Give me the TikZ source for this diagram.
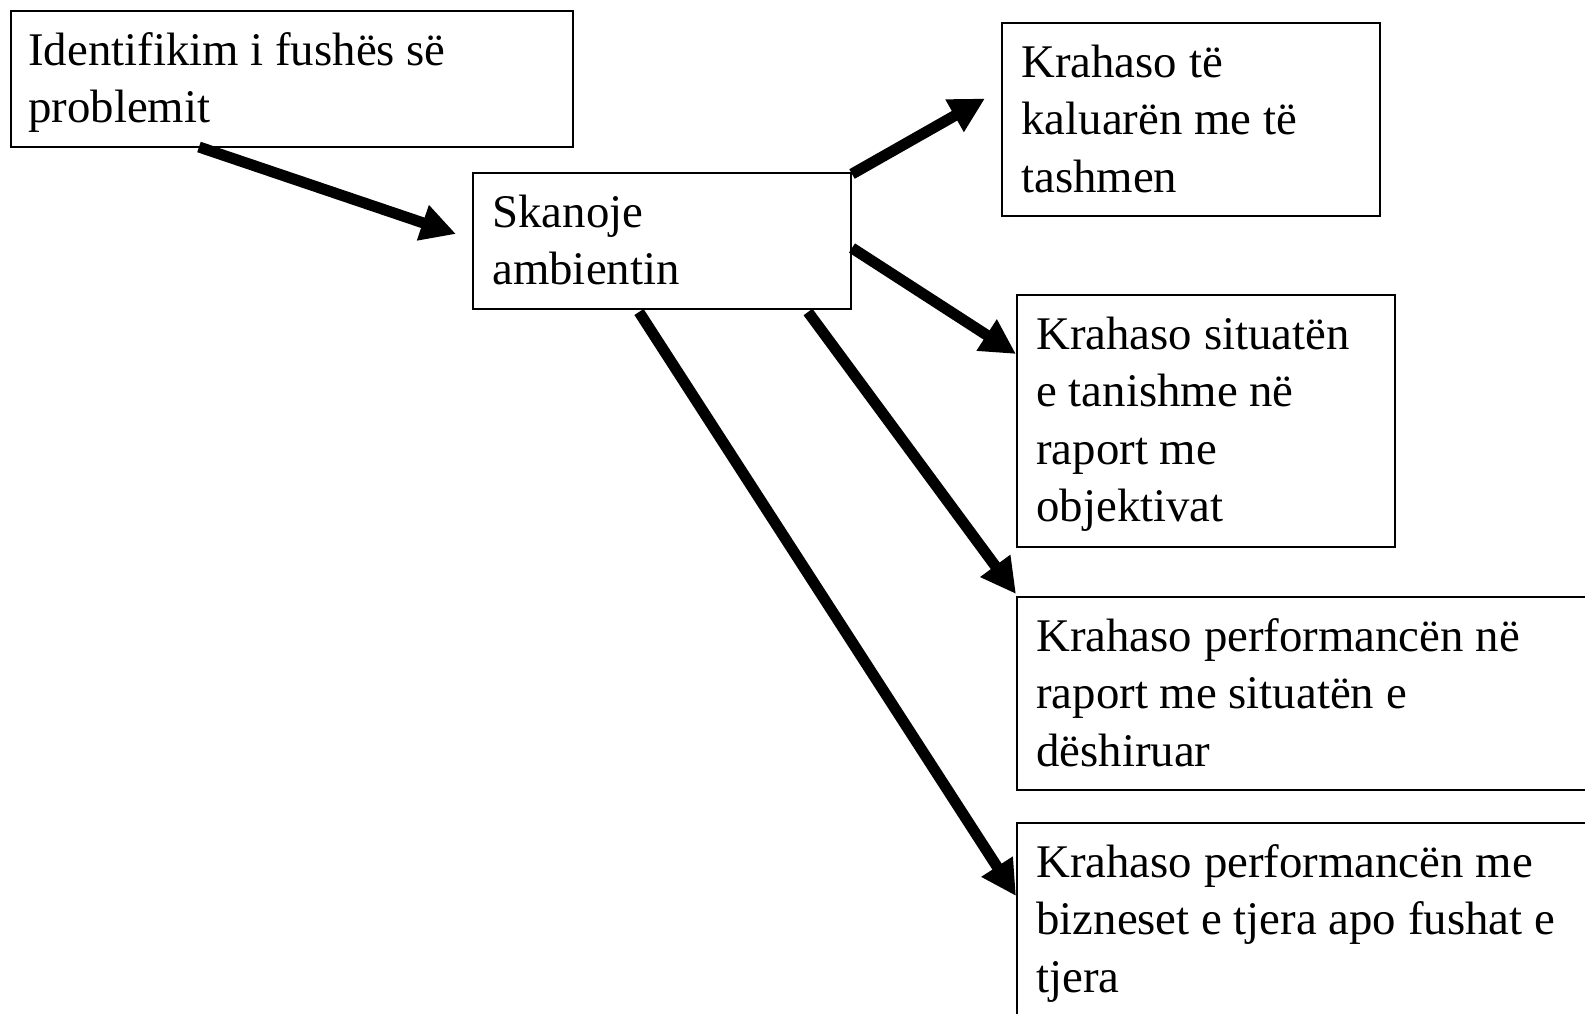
\documentclass[tikz,border=0pt]{standalone}
\usepackage{fontspec}
\setmainfont{Liberation Serif}
\usetikzlibrary{arrows.meta,calc}
\begin{document}
\begin{tikzpicture}[x=0.5pt,y=-0.5pt,
  frame/.style={draw, line width=1pt, inner sep=0pt, anchor=north west},
  words/.style={anchor=north west, inner sep=0pt, align=left,
    font=\fontsize{23.4pt}{28.75pt}\selectfont},
  flow/.style={line width=5.5pt, -{Triangle[length=17.5pt,width=17.5pt]}}]
\useasboundingbox (0,0) rectangle (1585,1013);
\clip (0,0) rectangle (1585,1013);

% boxes
\node[frame, minimum width=281pt, minimum height=68pt]   (b1) at (10,10)    {};
\node[frame, minimum width=189pt, minimum height=68pt]   (b2) at (472,172)  {};
\node[frame, minimum width=189pt, minimum height=96.5pt] (b3) at (1001,22)  {};
\node[frame, minimum width=189pt, minimum height=126pt]  (b4) at (1016,294) {};
\node[frame, minimum width=302pt, minimum height=96.5pt] (b5) at (1016,596) {};
\node[frame, minimum width=302pt, minimum height=114pt]  (b6) at (1016,822) {};

% texts
\node[words] (t1) at ($(b1.north west)+(18,14.75)$) {\strut Identifikim i fushës së\\problemit};
\node[words] (t2) at ($(b2.north west)+(20,14.75)$) {\strut Skanoje\\ambientin};
\node[words] (t3) at ($(b3.north west)+(20,14.75)$) {\strut Krahaso të\\kaluarën me të\\tashmen};
\node[words] (t4) at ($(b4.north west)+(20,14.75)$) {\strut Krahaso situatën\\e tanishme në\\raport me\\objektivat};
\node[words] (t5) at ($(b5.north west)+(20,14.75)$) {\strut Krahaso performancën në\\raport me situatën e\\dëshiruar};
\node[words] (t6) at ($(b6.north west)+(20,14.75)$) {\strut Krahaso performancën me\\bizneset e tjera apo fushat e\\tjera};

% arrows
\draw[flow] ($(b1.south west)+(189,-1)$) -- ($(b2.west)+(-16,-7)$);
\draw[flow] ($(b2.north east)+(0,2)$)    -- ($(b3.west)+(-16,-21)$);
\draw[flow] ($(b2.north east)+(0,76)$)   -- ($(b4.north west)+(0,60)$);
\draw[flow] ($(b2.south east)+(-44,2)$)  -- ($(b5.north west)+(0,-2)$);
\draw[flow] ($(b2.south west)+(167,2)$)  -- ($(b6.north west)+(0,74)$);
\end{tikzpicture}
\end{document}
